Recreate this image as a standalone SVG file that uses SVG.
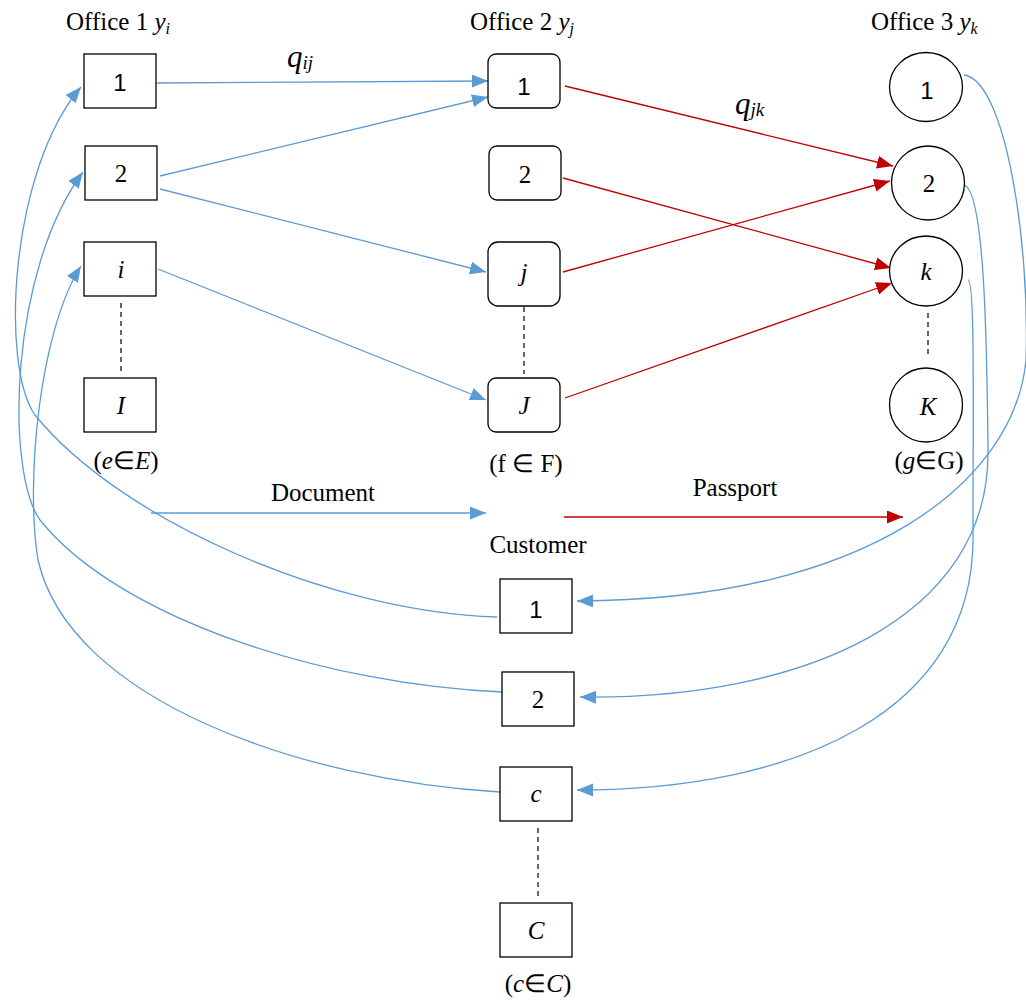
<svg xmlns="http://www.w3.org/2000/svg" width="1026" height="1001" viewBox="0 0 1026 1001">
<style>
.box{fill:#fff;stroke:#000;stroke-width:1.3}
.dash{stroke:#000;stroke-width:1.2;stroke-dasharray:5,4;fill:none}
.b{stroke:#5B9BD5;stroke-width:1.3;fill:none}
.r{stroke:#C00000;stroke-width:1.3;fill:none}
.t{font-family:"Liberation Serif","Times New Roman",serif;font-size:25px;fill:#000}
.n{font-family:"Liberation Sans",Arial,sans-serif;font-size:24px;fill:#000;text-anchor:middle}
.s{font-family:"Liberation Serif","Times New Roman",serif;font-size:25px;fill:#000;text-anchor:middle}
.it{font-style:italic}
</style>
<defs>
<marker id="ab" markerUnits="userSpaceOnUse" markerWidth="17" markerHeight="14" refX="16" refY="6.5" orient="auto"><path d="M0,0 L16,6.5 L0,13 z" fill="#5B9BD5"/></marker>
<marker id="ar" markerUnits="userSpaceOnUse" markerWidth="17" markerHeight="14" refX="16" refY="6.5" orient="auto"><path d="M0,0 L16,6.5 L0,13 z" fill="#C00000"/></marker>
</defs>

<g id="titles">
<text class="t" x="66" y="30">Office 1 <tspan class="it">y</tspan><tspan class="it" style="font-size:16px" dy="4">i</tspan></text>
<text class="t" x="470" y="30">Office 2 <tspan class="it">y</tspan><tspan class="it" style="font-size:16px" dy="4">j</tspan></text>
<text class="t" x="871" y="30">Office 3 <tspan class="it">y</tspan><tspan class="it" style="font-size:16px" dy="4">k</tspan></text>
<text class="t it" x="287" y="67" style="font-size:31px">q<tspan style="font-size:19px" dy="2">ij</tspan></text>
<text class="t it" x="735" y="114" style="font-size:31px">q<tspan style="font-size:19px" dy="2">jk</tspan></text>
<text class="t" x="323" y="501" text-anchor="middle">Document</text>
<text class="t" x="735" y="496" text-anchor="middle">Passport</text>
<text class="t" x="538" y="553" text-anchor="middle">Customer</text>
<text class="t" x="126" y="469" text-anchor="middle">(<tspan class="it">e</tspan>∈<tspan class="it">E</tspan>)</text>
<text class="t" x="526" y="472" text-anchor="middle">(f ∈ F)</text>
<text class="t" x="929" y="469" text-anchor="middle">(<tspan class="it">g</tspan>∈G)</text>
<text class="t" x="538" y="992" text-anchor="middle">(<tspan class="it">c</tspan>∈<tspan class="it">C</tspan>)</text>
</g>

<g id="connectors">
<line class="b" x1="157" y1="83" x2="488" y2="81" marker-end="url(#ab)"/>
<line class="b" x1="160" y1="176" x2="488" y2="97" marker-end="url(#ab)"/>
<line class="b" x1="160" y1="189" x2="486" y2="272" marker-end="url(#ab)"/>
<line class="b" x1="158" y1="269" x2="486" y2="400" marker-end="url(#ab)"/>
<line class="r" x1="565" y1="86" x2="893" y2="166" marker-end="url(#ar)"/>
<line class="r" x1="563" y1="178" x2="891" y2="268" marker-end="url(#ar)"/>
<line class="r" x1="563" y1="272" x2="890" y2="181" marker-end="url(#ar)"/>
<line class="r" x1="565" y1="398" x2="892" y2="283" marker-end="url(#ar)"/>
<line class="b" x1="151" y1="513" x2="486" y2="513" marker-end="url(#ab)"/>
<line class="r" x1="564" y1="517" x2="903" y2="517" marker-end="url(#ar)" stroke="#D03A3A"/>
<path class="b" d="M497,617 C330,612 120,520 35,415 C0,365 10,170 81,87" marker-end="url(#ab)"/>
<path class="b" d="M502,692 C330,685 120,620 40,520 C5,470 10,270 83,172" marker-end="url(#ab)"/>
<path class="b" d="M500,792 C300,780 70,700 38,560 C25,480 40,330 81,266" marker-end="url(#ab)"/>
<path class="b" d="M964,75 C1005,80 1030,240 1026,360 C1015,480 870,600 577,601" marker-end="url(#ab)"/>
<path class="b" d="M963,185 C985,185 987,350 988,450 C990,620 800,700 580,697" marker-end="url(#ab)"/>
<path class="b" d="M968,280 C975,280 973,400 973,540 C972,710 800,790 577,790" marker-end="url(#ab)"/>
<line class="dash" x1="121" y1="303" x2="121" y2="372"/>
<line class="dash" x1="524" y1="307" x2="524" y2="374"/>
<line class="dash" x1="928" y1="313" x2="928" y2="358"/>
<line class="dash" x1="538" y1="828" x2="538" y2="896"/>
</g>

<g id="o1-1"><rect class="box" x="84" y="54" width="72" height="54"/><text class="n" x="120" y="91">1</text></g>
<g id="o1-2"><rect class="box" x="85" y="146" width="72" height="54"/><text class="s" x="121" y="182">2</text></g>
<g id="o1-i"><rect class="box" x="84" y="242" width="72" height="54"/><text class="s it" x="121" y="278">i</text></g>
<g id="o1-I"><rect class="box" x="84" y="378" width="72" height="54"/><text class="s it" x="121" y="414">I</text></g>

<g id="o2-1"><rect class="box" x="488" y="54" width="72" height="54" rx="8"/><text class="n" x="524" y="95">1</text></g>
<g id="o2-2"><rect class="box" x="489" y="146" width="72" height="54" rx="8"/><text class="s" x="525" y="183">2</text></g>
<g id="o2-j"><rect class="box" x="488" y="242" width="72" height="64" rx="10"/><text class="s it" x="524" y="281">j</text></g>
<g id="o2-J"><rect class="box" x="488" y="378" width="72" height="54" rx="8"/><text class="s it" x="524" y="414">J</text></g>

<g id="o3-1"><ellipse class="box" cx="926" cy="87" rx="36.5" ry="34.5"/><text class="n" x="927" y="99">1</text></g>
<g id="o3-2"><ellipse class="box" cx="928" cy="183" rx="36.5" ry="37"/><text class="s" x="929" y="192">2</text></g>
<g id="o3-k"><ellipse class="box" cx="926" cy="271" rx="36.5" ry="35"/><text class="s it" x="926" y="280">k</text></g>
<g id="o3-K"><ellipse class="box" cx="926" cy="405" rx="36.5" ry="37"/><text class="s it" x="928" y="415">K</text></g>

<g id="c-1"><rect class="box" x="500" y="579" width="72" height="54"/><text class="n" x="536" y="618">1</text></g>
<g id="c-2"><rect class="box" x="502" y="672" width="72" height="54"/><text class="s" x="538" y="708">2</text></g>
<g id="c-c"><rect class="box" x="500" y="767" width="72" height="54"/><text class="s it" x="536" y="802">c</text></g>
<g id="c-C"><rect class="box" x="500" y="903" width="72" height="54"/><text class="s it" x="536" y="939">C</text></g>
</svg>
